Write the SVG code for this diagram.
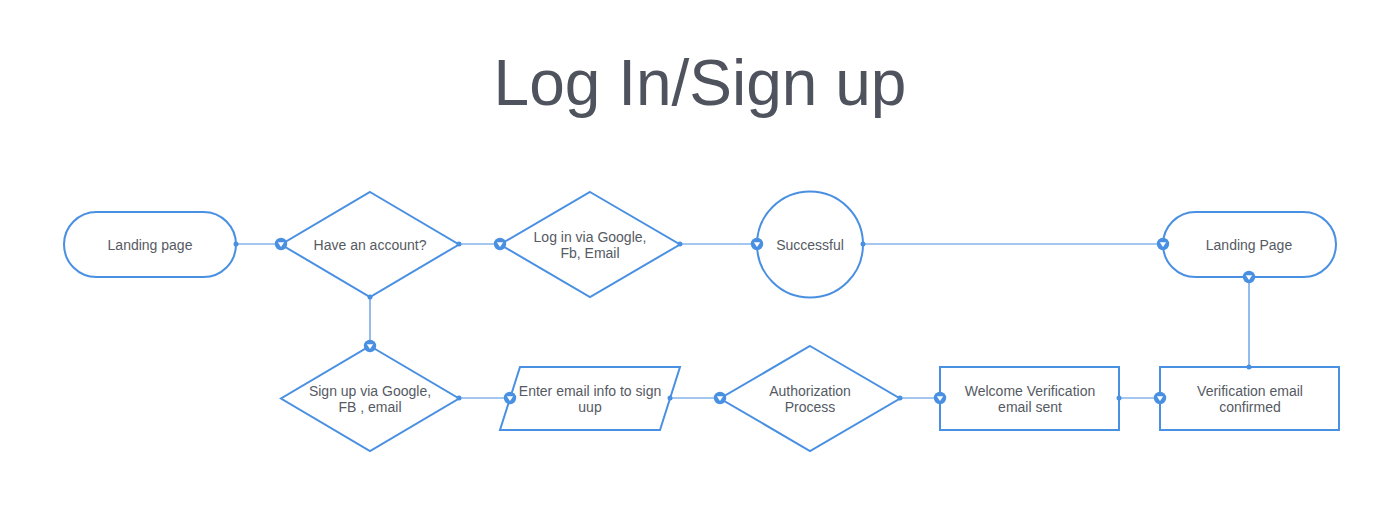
<svg xmlns="http://www.w3.org/2000/svg" width="1400" height="516" viewBox="0 0 1400 516">
<style>
.s{fill:#fff;stroke:#4a90e2;stroke-width:2}
.t{font-family:"Liberation Sans",Arial,sans-serif;font-size:14px;fill:#555a63;text-anchor:middle}
.c{fill:none;stroke:#4a90e2;stroke-width:1.2}
</style>
<defs>
<marker id="arr" markerUnits="userSpaceOnUse" markerWidth="16" markerHeight="16" refX="8" refY="8" orient="0" viewBox="0 0 16 16">
<circle cx="8" cy="8" r="6.2" fill="#4a90e2"/>
<path d="M4.8 6.2 L11.2 6.2 L8 11 Z" fill="#fff"/>
</marker>
<marker id="dot" markerUnits="userSpaceOnUse" markerWidth="8" markerHeight="8" refX="4" refY="4" orient="0" viewBox="0 0 8 8">
<circle cx="4" cy="4" r="2.5" fill="#4a90e2"/>
</marker>
</defs>
<rect width="1400" height="516" fill="#fff"/>
<text x="700" y="105" font-family="Liberation Sans,Arial,sans-serif" font-size="64" fill="#4f535e" text-anchor="middle">Log In/Sign up</text>
<g id="landing">
<rect class="s" x="64" y="212" width="172" height="65" rx="32.5"/>
<text class="t" x="150" y="250">Landing page</text>
</g>
<g id="have-account">
<path class="s" d="M370 192 L459 244.5 L370 297 L281 244.5 Z"/>
<text class="t" x="370" y="250">Have an account?</text>
</g>
<g id="login">
<path class="s" d="M590 192 L680 244.5 L590 297 L500 244.5 Z"/>
<text class="t" x="590" y="242">Log in via Google,</text>
<text class="t" x="590" y="258">Fb, Email</text>
</g>
<g id="successful">
<circle class="s" cx="810" cy="244.5" r="53"/>
<text class="t" x="810" y="250">Successful</text>
</g>
<g id="landing2">
<rect class="s" x="1163" y="212" width="173" height="65" rx="32.5"/>
<text class="t" x="1249" y="250">Landing Page</text>
</g>
<g id="signup">
<path class="s" d="M370 346 L459 398.5 L370 451 L281 398.5 Z"/>
<text class="t" x="370" y="396">Sign up via Google,</text>
<text class="t" x="370" y="412">FB , email</text>
</g>
<g id="enter-email">
<path class="s" d="M520 367 L680 367 L660 430 L500 430 Z"/>
<text class="t" x="590" y="396">Enter email info to sign</text>
<text class="t" x="590" y="412">uup</text>
</g>
<g id="authorization">
<path class="s" d="M810 346 L900 398.5 L810 451 L720 398.5 Z"/>
<text class="t" x="810" y="396">Authorization</text>
<text class="t" x="810" y="412">Process</text>
</g>
<g id="welcome">
<rect class="s" x="940" y="367" width="179" height="63"/>
<text class="t" x="1030" y="396">Welcome Verification</text>
<text class="t" x="1030" y="412">email sent</text>
</g>
<g id="verified">
<rect class="s" x="1160" y="367" width="179" height="63"/>
<text class="t" x="1250" y="396">Verification email</text>
<text class="t" x="1250" y="412">confirmed</text>
</g>
<g id="connectors">
<path class="c" d="M236 244 H281" marker-start="url(#dot)" marker-end="url(#arr)"/>
<path class="c" d="M459 244 H500" marker-start="url(#dot)" marker-end="url(#arr)"/>
<path class="c" d="M680 244 H757" marker-start="url(#dot)" marker-end="url(#arr)"/>
<path class="c" d="M863 244 H1163" marker-start="url(#dot)" marker-end="url(#arr)"/>
<path class="c" d="M370 297 V346" marker-start="url(#dot)" marker-end="url(#arr)"/>
<path class="c" d="M459 398 H510" marker-start="url(#dot)" marker-end="url(#arr)"/>
<path class="c" d="M670 398 H720" marker-start="url(#dot)" marker-end="url(#arr)"/>
<path class="c" d="M900 398 H940" marker-start="url(#dot)" marker-end="url(#arr)"/>
<path class="c" d="M1119 398 H1160" marker-start="url(#dot)" marker-end="url(#arr)"/>
<path class="c" d="M1249 367 V277" marker-start="url(#dot)" marker-end="url(#arr)"/>
</g>
</svg>
